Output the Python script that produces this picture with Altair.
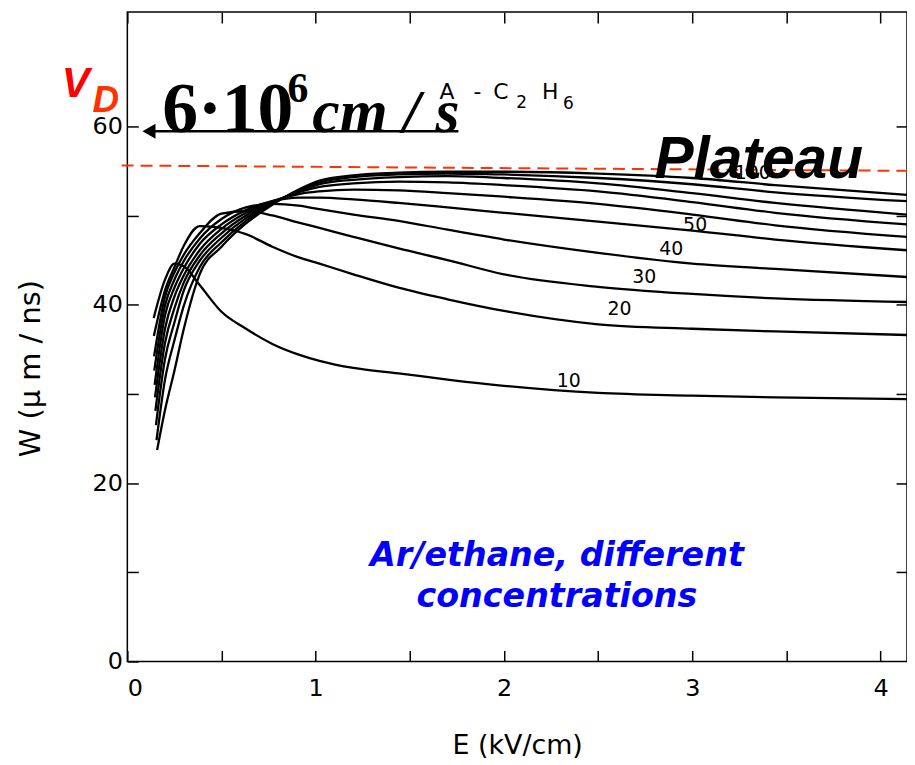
import altair as alt
import pandas as pd

# ---- data (Ar - C2H6 drift velocity) ----
concentrations = [10, 20, 30, 40, 50, 60, 70, 80, 90, 100]
e_start = [0.140, 0.141, 0.142, 0.143, 0.145, 0.147, 0.149, 0.152, 0.155, 0.158]
w_start = [38.5, 36.5, 34.2, 32.6, 31.0, 29.6, 28.1, 26.5, 24.8, 23.7]
e_grid = [0.20, 0.25, 0.30, 0.384, 0.5, 0.63, 0.77, 0.91, 1.02, 1.2, 1.44, 1.7, 2.0, 2.5, 3.0, 3.44, 4.14]
w_10 = [42.8, 44.6, 44.3, 42.2, 39.2, 37.3, 35.6, 34.4, 33.7, 32.9, 32.3, 31.6, 30.9, 30.1, 29.8, 29.6, 29.4]
w_20 = [41.6, 44.2, 46.6, 48.8, 48.6, 47.9, 46.5, 45.3, 44.6, 43.4, 41.9, 40.6, 39.3, 37.8, 37.3, 37.0, 36.6]
w_30 = [40.9, 43.6, 45.6, 48.0, 50.2, 50.5, 50.0, 49.2, 48.6, 47.6, 46.3, 45.0, 43.4, 42.0, 41.2, 40.7, 40.3]
w_40 = [39.9, 42.8, 44.9, 47.4, 49.6, 50.9, 51.3, 51.1, 50.7, 50.1, 49.4, 48.4, 47.3, 45.8, 44.6, 44.0, 43.1]
w_50 = [38.8, 41.9, 44.1, 46.8, 49.0, 50.6, 51.6, 52.0, 52.0, 51.8, 51.4, 50.9, 50.3, 49.3, 48.3, 47.3, 46.1]
w_60 = [37.3, 40.9, 43.3, 46.1, 48.5, 50.3, 51.6, 52.4, 52.7, 52.9, 52.8, 52.5, 52.1, 51.3, 50.1, 48.9, 47.6]
w_70 = [35.7, 39.6, 42.5, 45.5, 48.0, 50.0, 51.5, 52.6, 53.2, 53.6, 53.8, 53.7, 53.4, 52.7, 51.5, 50.3, 49.0]
w_80 = [33.9, 38.0, 41.6, 44.9, 47.5, 49.7, 51.4, 52.7, 53.5, 54.0, 54.3, 54.4, 54.2, 53.6, 52.5, 51.4, 50.1]
w_90 = [31.6, 36.0, 39.9, 44.2, 47.0, 49.4, 51.3, 52.8, 53.7, 54.3, 54.6, 54.7, 54.6, 54.2, 53.5, 52.6, 51.6]
w_100 = [28.2, 32.6, 37.3, 43.4, 46.5, 49.1, 51.2, 52.9, 53.9, 54.5, 54.8, 54.9, 54.9, 54.7, 54.2, 53.4, 52.3]
w_series = [w_10, w_20, w_30, w_40, w_50, w_60, w_70, w_80, w_90, w_100]

label_text = ["10", "20", "30", "40", "50", "100"]
label_e = [2.344, 2.614, 2.745, 2.888, 3.015, 3.321]
label_w = [31.45, 39.48, 43.05, 46.28, 48.96, 54.76]

x_ticks = [0, 0.5, 1, 1.5, 2, 2.5, 3, 3.5, 4]
y_ticks = [0, 10, 20, 30, 40, 50, 60]

plateau_e = [-0.03, 4.14]
plateau_w = [55.6, 55.0]
arrow_e = [0.10, 1.758]
arrow_w = 59.44

# ---- build table ----
rows = []
for c, es, ws, wl in zip(concentrations, e_start, w_start, w_series):
    rows.append({"c": c, "E": es, "W": ws, "o": 0})
    for i, (e, w) in enumerate(zip(e_grid, wl)):
        rows.append({"c": c, "E": e, "W": w, "o": i + 1})
curves = pd.DataFrame(rows)
labels = pd.DataFrame({"t": label_text, "E": label_e, "W": label_w})

W, H = 784, 653
xscale = alt.Scale(domain=[0, 4.14], nice=False, zero=False)
yscale = alt.Scale(domain=[0, 72.8], nice=False, zero=False)
FONT = "DejaVu Sans"

x_axis = alt.Axis(values=x_ticks, tickSize=11, offset=-11, domain=False, grid=False,
                  tickColor="black", tickWidth=1.5, labelColor="black",
                  labelExpr="datum.value % 1 == 0 ? format(datum.value, 'd') : ''",
                  labelFont=FONT, labelFontSize=24, labelPadding=15,
                  title="E (kV/cm)", titleFont=FONT, titleFontSize=27,
                  titleFontWeight="normal", titleColor="black",
                  titleBaseline="middle", titleY=96)
y_axis = alt.Axis(values=y_ticks, tickSize=11, offset=-11, domain=False, grid=False,
                  tickColor="black", tickWidth=1.5, labelColor="black",
                  labelExpr="datum.value % 20 == 0 ? format(datum.value, 'd') : ''",
                  labelFont=FONT, labelFontSize=24, labelPadding=5,
                  title="W (μ m / ns)", titleFont=FONT, titleFontSize=29,
                  titleFontWeight="normal", titleColor="black",
                  titleAngle=270, titleAlign="center", titleBaseline="middle",
                  titleX=-108, titleY=358)
x_top = alt.Axis(orient="top", values=x_ticks, tickSize=11, offset=-11, domain=False,
                 grid=False, labels=False, title=None, tickColor="black", tickWidth=1.5)
y_right = alt.Axis(orient="right", values=y_ticks[1:], tickSize=11, offset=-11, domain=False,
                   grid=False, labels=False, title=None, tickColor="black", tickWidth=1.5)

lines = alt.Chart(curves).mark_line(color="black", strokeWidth=2.3, interpolate="monotone").encode(
    x=alt.X("E:Q", scale=xscale, axis=x_axis),
    y=alt.Y("W:Q", scale=yscale, axis=y_axis),
    detail="c:N",
    order="o:Q",
)

one = pd.DataFrame({"a": [0]})
plateau = alt.Chart(one).mark_rule(color="#ff3300", strokeWidth=2, strokeDash=[12, 7]).encode(
    x=alt.X(datum=plateau_e[0], type="quantitative", scale=xscale, axis=x_top),
    x2=alt.X2(datum=plateau_e[1]),
    y=alt.Y(datum=plateau_w[0], type="quantitative", scale=yscale, axis=y_right),
    y2=alt.Y2(datum=plateau_w[1]),
)

curve_labels = alt.Chart(labels).mark_text(font=FONT, fontSize=19, color="black").encode(
    x=alt.X("E:Q", scale=xscale, axis=None), y=alt.Y("W:Q", scale=yscale, axis=None), text="t:N")

arrow_line = alt.Chart(one).mark_rule(color="black", strokeWidth=2.5).encode(
    x=alt.X(datum=arrow_e[0], type="quantitative", scale=xscale, axis=None),
    x2=alt.X2(datum=arrow_e[1]),
    y=alt.Y(datum=arrow_w, type="quantitative", scale=yscale, axis=None),
)
arrow_head = alt.Chart(one).mark_point(shape="triangle-left", filled=True, color="black",
                                       size=230, opacity=1).encode(
    x=alt.X(datum=0.115, type="quantitative", scale=xscale, axis=None),
    y=alt.Y(datum=arrow_w, type="quantitative", scale=yscale, axis=None),
)


def txt(text, x, y, size, font, color="black", weight="normal", style="normal",
        align="left", line_height=None):
    kw = dict(text=text, font=font, fontSize=size, color=color, fontWeight=weight,
              fontStyle=style, align=align, baseline="alphabetic")
    if line_height:
        kw["lineHeight"] = line_height
    return alt.Chart(one).mark_text(**kw).encode(x=alt.value(x), y=alt.value(y))


t_v = txt("V", -66, 85, 42, "Liberation Sans", "#ff0000", "bold", "italic")
t_d = txt("D", -35, 100, 37, "Liberation Sans", "#ff3300", "bold", "italic")
t_num = txt("6·10", 35, 121, 72, "Liberation Serif", weight="bold")
t_sup = txt("6", 161, 90, 42, "Liberation Serif", weight="bold")
t_unit = txt("cm / s", 186, 121, 62, "Liberation Serif", weight="bold", style="italic")
# "A - C2 H6" gas label, pieces placed like the reference
t_gas = [
    txt("A", 314, 87, 22, FONT),
    txt("-", 348, 87, 22, FONT),
    txt("C", 368, 87, 22, FONT),
    txt("2", 391, 96, 17, FONT),
    txt("H", 417, 87, 22, FONT),
    txt("6", 438, 97, 17, FONT),
]
t_plateau = txt("Plateau", 530, 167, 59, "Liberation Sans", weight="bold", style="italic")
t_blue = txt(["Ar/ethane, different", "concentrations"], 432, 557, 33.5, FONT, "#0000ff",
             "bold", "italic", align="center", line_height=41)

chart = alt.layer(
    lines, plateau, curve_labels, arrow_line, arrow_head,
    t_v, t_d, t_num, t_sup, t_unit, *t_gas, t_plateau, t_blue,
).resolve_axis(x="independent", y="independent").properties(
    width=W, height=H,
    padding={"left": 120, "top": 2, "right": 0, "bottom": 100},
    autosize=alt.AutoSizeParams(type="none"),
    background="white",
).configure_view(stroke="black", strokeWidth=1.5)

chart.save("out.html", embed_options={"renderer": "svg", "actions": False})
